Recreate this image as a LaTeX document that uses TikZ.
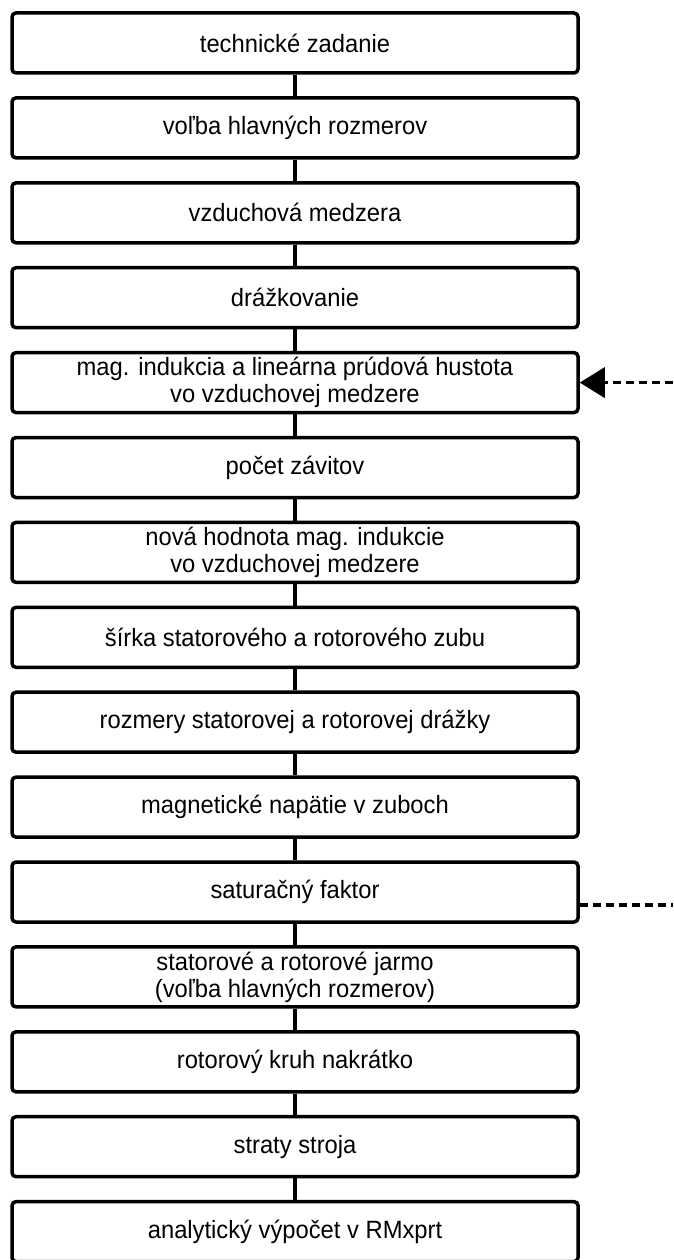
\documentclass[tikz,border=0pt]{standalone}
\usepackage{fontspec}
\setmainfont{Liberation Sans}[FakeStretch=0.95]
\usetikzlibrary{arrows.meta,calc}
\begin{document}
\begin{tikzpicture}[x=1pt,y=1pt,
  stepbox/.style={draw, rectangle, rounded corners=4pt, line width=3.5pt,
    minimum width=566pt, minimum height=60pt, inner sep=0pt, align=center,
    font=\fontsize{25}{27}\selectfont},
  link/.style={line width=3.5pt},
  dashline/.style={line width=3.5pt, dash pattern=on 8pt off 5pt}
]
\useasboundingbox (0,0) rectangle (673,-1260);
\node[stepbox] (b1)  at (295,-43.0)  {technické zadanie};
\node[stepbox] (b2)  at (295,-127.9) {voľba hlavných rozmerov};
\node[stepbox] (b3)  at (295,-212.8) {vzduchová medzera};
\node[stepbox] (b4)  at (295,-297.7) {drážkovanie};
\node[stepbox] (b5)  at (295,-382.6) {mag. indukcia a lineárna prúdová hustota\\vo vzduchovej medzere};
\node[stepbox] (b6)  at (295,-467.5) {počet závitov};
\node[stepbox] (b7)  at (295,-552.4) {nová hodnota mag. indukcie\\ vo vzduchovej medzere};
\node[stepbox] (b8)  at (295,-637.3) {šírka statorového a rotorového zubu};
\node[stepbox] (b9)  at (295,-722.2) {rozmery statorovej a rotorovej drážky};
\node[stepbox] (b10) at (295,-807.1) {magnetické napätie v zuboch};
\node[stepbox] (b11) at (295,-892.0) {saturačný faktor};
\node[stepbox] (b12) at (295,-976.9) {statorové a rotorové jarmo\\(voľba hlavných rozmerov)};
\node[stepbox] (b13) at (295,-1061.8) {rotorový kruh nakrátko};
\node[stepbox] (b14) at (295,-1146.7) {straty stroja};
\node[stepbox] (b15) at (295,-1231.6) {analytický výpočet v RMxprt};
\foreach \a/\b in {b1/b2,b2/b3,b3/b4,b4/b5,b5/b6,b6/b7,b7/b8,b8/b9,b9/b10,b10/b11,b11/b12,b12/b13,b13/b14,b14/b15}
  \draw[link] (\a) -- (\b);
\coordinate (e1) at (673,-382.6);
\coordinate (e2) at (673,-905);
\draw[dashline, -{Triangle[length=25pt,width=30pt]}] (e1) -- (b5.east);
\draw[dashline] (b11.east |- e2) -- (e2);
\end{tikzpicture}
\end{document}
